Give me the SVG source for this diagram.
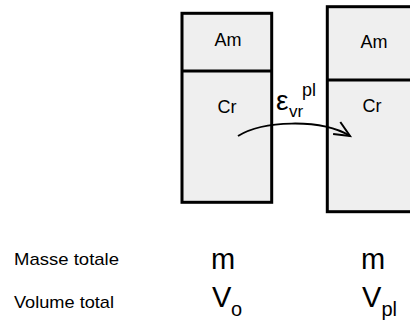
<svg xmlns="http://www.w3.org/2000/svg" width="410" height="320" viewBox="0 0 410 320">
<style>
.box{fill:#efefef;stroke:#000;stroke-width:3}
.div{stroke:#000;stroke-width:3}
.t{font-family:"Liberation Sans",Arial,sans-serif;fill:#000}
.lbl{font-size:18px;text-anchor:middle}
.row{font-size:17px}
.sym{font-size:29px}
</style>
<defs>
<marker id="ah" markerUnits="userSpaceOnUse" markerWidth="20" markerHeight="20" refX="0" refY="0" orient="auto" overflow="visible">
<path d="M-15.5,-7 L0,0 L-15.5,7" fill="none" stroke="#000" stroke-width="2"/>
</marker>
</defs>
<rect width="410" height="320" fill="#fff"/>
<g id="box-initial">
<rect class="box" x="182" y="13.3" width="89.7" height="189"/>
<line class="div" x1="182" y1="71" x2="271.7" y2="71"/>
<text class="t lbl" x="228" y="45.5">Am</text>
<text class="t lbl" x="227" y="113">Cr</text>
</g>
<g id="box-final">
<rect class="box" x="327.3" y="6.7" width="100" height="205"/>
<line class="div" x1="327.3" y1="80" x2="427.3" y2="80"/>
<text class="t lbl" x="374" y="48.3">Am</text>
<text class="t lbl" x="372" y="111.7">Cr</text>
</g>
<g id="connectors">
<path d="M238,136 C262,121 320,118 350,136" fill="none" stroke="#000" stroke-width="2" marker-end="url(#ah)"/>
</g>
<g id="strain-label">
<text class="t" x="276" y="110" font-size="28">ε</text>
<text class="t" x="289" y="117" font-size="17">vr</text>
<text class="t" x="302" y="96" font-size="18">pl</text>
</g>
<g id="row-labels">
<text class="t row" x="14" y="264.5" textLength="105" lengthAdjust="spacingAndGlyphs">Masse totale</text>
<text class="t row" x="14" y="307.5" textLength="100" lengthAdjust="spacingAndGlyphs">Volume total</text>
</g>
<g id="values-initial">
<text class="t sym" x="211" y="269">m</text>
<text class="t sym" x="212" y="306.7">V</text>
<text class="t" x="231" y="315.5" font-size="20">o</text>
</g>
<g id="values-final">
<text class="t sym" x="361" y="269">m</text>
<text class="t sym" x="362" y="306.7">V</text>
<text class="t" x="381.5" y="315.5" font-size="20">pl</text>
</g>
</svg>
